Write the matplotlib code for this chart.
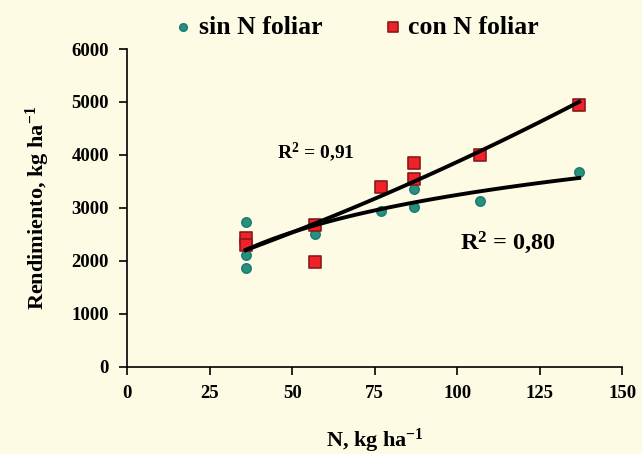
import numpy as np
import matplotlib
matplotlib.use('Agg')
import matplotlib.pyplot as plt

# data
sin_n = [36, 36, 36, 57, 77, 87, 87, 107, 137]
sin_rend = [2736, 2113, 1868, 2509, 2943, 3358, 3019, 3132, 3679]

con_n = [36, 36, 57, 57, 77, 87, 87, 107, 137]
con_rend = [2434, 2302, 2679, 1981, 3396, 3849, 3547, 4000, 4943]

r2_sin = '0,80'
r2_con = '0,91'

bg = '#fdfbe3'
plt.rcParams['font.family'] = ['Liberation Serif', 'DejaVu Serif']
plt.rcParams['font.weight'] = 'bold'
plt.rcParams['mathtext.fontset'] = 'custom'
plt.rcParams['mathtext.rm'] = 'Liberation Serif:bold'
plt.rcParams['mathtext.bf'] = 'Liberation Serif:bold'
plt.rcParams['mathtext.default'] = 'bf'

fig = plt.figure(figsize=(6.42, 4.54), dpi=100, facecolor=bg)
ax = fig.add_axes([0.198, 0.192, 0.771, 0.700], facecolor=bg)

# trend lines fitted from the points
xs = np.linspace(min(sin_n), max(sin_n), 100)
a, b = np.polyfit(np.log(sin_n), sin_rend, 1)
ax.plot(xs, a * np.log(xs) + b, color='black', lw=2.8, zorder=3)

c = np.polyfit(con_n, con_rend, 2)
ax.plot(xs, np.polyval(c, xs), color='black', lw=2.8, zorder=3)

ax.scatter(sin_n, sin_rend, s=45, marker='o', color='#2a9078',
           edgecolors='#1d7d7d', linewidths=1.2, zorder=2, label='sin N foliar')
ax.scatter(con_n, con_rend, s=80, marker='s', color='#ee2228',
           edgecolors='#8b1a1a', linewidths=1.2, zorder=2, label='con N foliar')

ax.text(45.5, 4060, 'R$^{2}$ = ' + r2_con, fontsize=14, fontweight='bold',
        va='center')
ax.text(101, 2340, 'R$^{2}$ = ' + r2_sin, fontsize=17.5, fontweight='bold',
        va='center')

ax.set_xlim(0, 150)
ax.set_ylim(0, 6000)
ax.set_xticks(range(0, 151, 25))
ax.set_yticks(range(0, 6001, 1000))
for s in ['top', 'right']:
    ax.spines[s].set_visible(False)
for s in ['left', 'bottom']:
    ax.spines[s].set_linewidth(1.2)
ax.tick_params(direction='out', length=6, width=1.2, labelsize=13.5, pad=7)
for lab in ax.get_xticklabels() + ax.get_yticklabels():
    lab.set_fontweight('bold')

ax.set_xlabel('N, kg ha$^{-1}$', fontsize=16, fontweight='bold', labelpad=18)
ax.set_ylabel('Rendimiento, kg ha$^{-1}$', fontsize=16, fontweight='bold',
              labelpad=14)

ax.legend(loc='center', bbox_to_anchor=(0.464, 1.069), ncol=2,
          frameon=False, prop={'size': 18.5, 'weight': 'bold'},
          handlelength=0.7, handletextpad=0.25, columnspacing=2.4,
          markerscale=0.8, borderaxespad=0, borderpad=0)

fig.savefig('out.png', dpi=100, facecolor=bg)
